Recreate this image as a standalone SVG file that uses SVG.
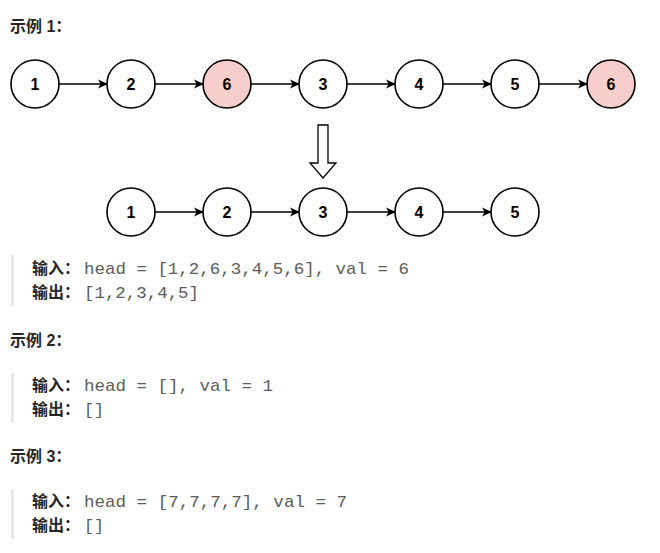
<svg xmlns="http://www.w3.org/2000/svg" width="660" height="553" viewBox="0 0 660 553">
<defs>
<marker id="ah" markerWidth="10" markerHeight="10" refX="9" refY="5" orient="auto" markerUnits="userSpaceOnUse">
<path d="M0,0.5 L10,5 L0,9.5 L2.5,5 Z" fill="#000"/>
</marker>
<style>
.n circle{fill:#fff;stroke:#000;stroke-width:1.6}
.n.hl circle{fill:#f8cecc}
.n text{font-family:"Liberation Sans",Arial,sans-serif;font-weight:bold;font-size:16px;text-anchor:middle;fill:#000}
.e line{stroke:#000;stroke-width:1.3;marker-end:url(#ah)}
.t{font-family:"Liberation Sans","Noto Sans CJK SC",sans-serif;font-weight:bold;font-size:16px;fill:#262626}
.lb{font-family:"Liberation Sans","Noto Sans CJK SC",sans-serif;font-weight:bold;font-size:16px;fill:#262626}
.code{font-family:"Liberation Mono","DejaVu Sans Mono",monospace;font-size:17px;fill:#5c5c5c}
.bar{fill:#e8e8e8}
</style>
</defs>
<rect width="660" height="553" fill="#fff"/>

<text class="t" x="10" y="32">示例 1：</text>

<g id="edges" class="e">
<line x1="59" y1="84" x2="107" y2="84"/>
<line x1="155" y1="84" x2="203" y2="84"/>
<line x1="251" y1="84" x2="299" y2="84"/>
<line x1="347" y1="84" x2="395" y2="84"/>
<line x1="443" y1="84" x2="491" y2="84"/>
<line x1="539" y1="84" x2="587" y2="84"/>
<line x1="155" y1="212" x2="203" y2="212"/>
<line x1="251" y1="212" x2="299" y2="212"/>
<line x1="347" y1="212" x2="395" y2="212"/>
<line x1="443" y1="212" x2="491" y2="212"/>
</g>

<g id="a1" class="n"><circle cx="35" cy="84" r="24"/><text x="35" y="90">1</text></g>
<g id="a2" class="n"><circle cx="131" cy="84" r="24"/><text x="131" y="90">2</text></g>
<g id="a3" class="n hl"><circle cx="227" cy="84" r="24"/><text x="227" y="90">6</text></g>
<g id="a4" class="n"><circle cx="323" cy="84" r="24"/><text x="323" y="90">3</text></g>
<g id="a5" class="n"><circle cx="419" cy="84" r="24"/><text x="419" y="90">4</text></g>
<g id="a6" class="n"><circle cx="515" cy="84" r="24"/><text x="515" y="90">5</text></g>
<g id="a7" class="n hl"><circle cx="611" cy="84" r="24"/><text x="611" y="90">6</text></g>

<g id="down">
<path d="M318,125 L328,125 L328,163 L336,163 L323,178 L310,163 L318,163 Z" fill="#fff" stroke="#000" stroke-width="1.3" stroke-linejoin="miter"/>
</g>

<g id="b1" class="n"><circle cx="131" cy="212" r="24"/><text x="131" y="218">1</text></g>
<g id="b2" class="n"><circle cx="227" cy="212" r="24"/><text x="227" y="218">2</text></g>
<g id="b3" class="n"><circle cx="323" cy="212" r="24"/><text x="323" y="218">3</text></g>
<g id="b4" class="n"><circle cx="419" cy="212" r="24"/><text x="419" y="218">4</text></g>
<g id="b5" class="n"><circle cx="515" cy="212" r="24"/><text x="515" y="218">5</text></g>

<rect class="bar" x="11" y="255" width="3" height="51"/>
<text class="lb" x="32" y="274">输入：</text>
<text class="code" x="84" y="274" textLength="325" lengthAdjust="spacingAndGlyphs">head = [1,2,6,3,4,5,6], val = 6</text>
<text class="lb" x="32" y="298">输出：</text>
<text class="code" x="84" y="298" textLength="115" lengthAdjust="spacingAndGlyphs">[1,2,3,4,5]</text>

<text class="t" x="10" y="346">示例 2：</text>
<rect class="bar" x="11" y="373" width="3" height="50"/>
<text class="lb" x="32" y="391">输入：</text>
<text class="code" x="84" y="391" textLength="189" lengthAdjust="spacingAndGlyphs">head = [], val = 1</text>
<text class="lb" x="32" y="415">输出：</text>
<text class="code" x="84" y="415" textLength="20" lengthAdjust="spacingAndGlyphs">[]</text>

<text class="t" x="10" y="462">示例 3：</text>
<rect class="bar" x="11" y="489" width="3" height="50"/>
<text class="lb" x="32" y="507">输入：</text>
<text class="code" x="84" y="507" textLength="263" lengthAdjust="spacingAndGlyphs">head = [7,7,7,7], val = 7</text>
<text class="lb" x="32" y="531">输出：</text>
<text class="code" x="84" y="531" textLength="20" lengthAdjust="spacingAndGlyphs">[]</text>
</svg>
